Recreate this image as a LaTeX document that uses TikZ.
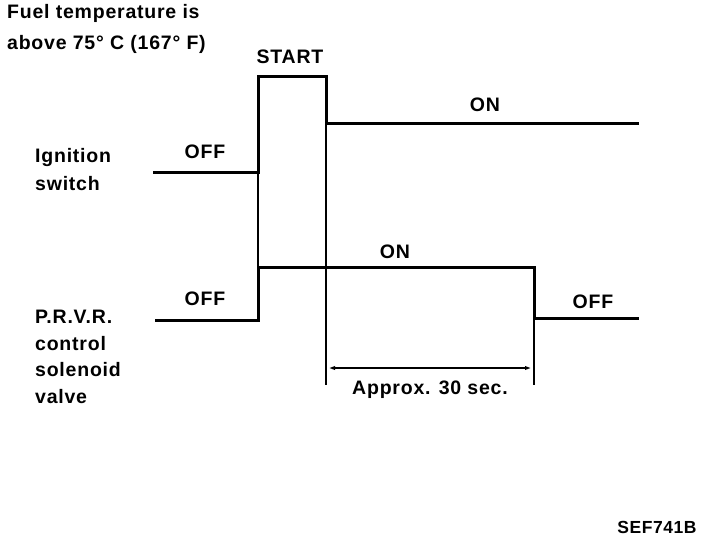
\documentclass[tikz,border=0pt]{standalone}
\usepackage{fontspec}
\setmainfont{Liberation Sans}
\usetikzlibrary{arrows.meta}

\begin{document}
\begin{tikzpicture}[x=1pt,y=-1pt,
lbl/.style={font=\bfseries\fontsize{19.5}{28}\selectfont\addfontfeature{LetterSpace=4},inner sep=0pt,align=left},
sig/.style={line width=3pt,line join=miter},
ext/.style={line width=1.2pt},
dim/.style={{Latex[length=9pt,width=4pt]}-{Latex[length=9pt,width=4pt]},line width=2pt}]
\useasboundingbox (0,0) rectangle (704,544);
% switching instants
\coordinate (tOn) at (258,0);
\coordinate (tRun) at (326,0);
\coordinate (tEnd) at (534,0);
% ignition switch trace
\coordinate (igA) at (153,172);
\coordinate (igB) at (639,123);
\draw[sig] (igA) -- (tOn|-igA) -- ++(0,-96) -| (tRun|-igB) -- (igB);
% P.R.V.R. trace
\coordinate (pvA) at (155,320);
\coordinate (pvB) at (639,318);
\draw[sig] (pvA) -- (tOn|-pvA) -- (258,267) -| (tEnd|-pvB) -- (pvB);
% extension lines
\draw[ext] (258,172) -- (258,267);
\draw[ext] (326,123) -- (326,385);
\draw[ext] (534,318) -- (534,385);
\coordinate (dL) at (326,368);
\coordinate (dR) at (534,368);
\draw[dim] (dL) -- (dR);
% texts
\node[lbl,anchor=north west] (fuel) at (7,4) {Fuel temperature is\\[3pt]above 75\textdegree\ C (167\textdegree\ F)};
\node[lbl,anchor=north west] (ign) at (35,148) {Ignition\\switch};
\node[lbl,anchor=north west] (prvr) at (35,310) {P.R.V.R.\\[-1.5pt]control\\[-1.5pt]solenoid\\[-1.5pt]valve};
\node[lbl] (start) at (290,57) {START};
\node[lbl] (igon) at (485,105) {ON};
\node[lbl] (igoff) at (205,152) {OFF};
\node[lbl] (pvon) at (395,252) {ON};
\node[lbl] (pvoff) at (205,299) {OFF};
\node[lbl] (pvoff2) at (593,302) {OFF};
\node[lbl] (approx) at (430,390) {Approx. 30 sec.};
\node[lbl,font=\bfseries\fontsize{17.5}{20}\selectfont\addfontfeature{LetterSpace=3}] (ref) at (657,527) {SEF741B};
\end{tikzpicture}
\end{document}
